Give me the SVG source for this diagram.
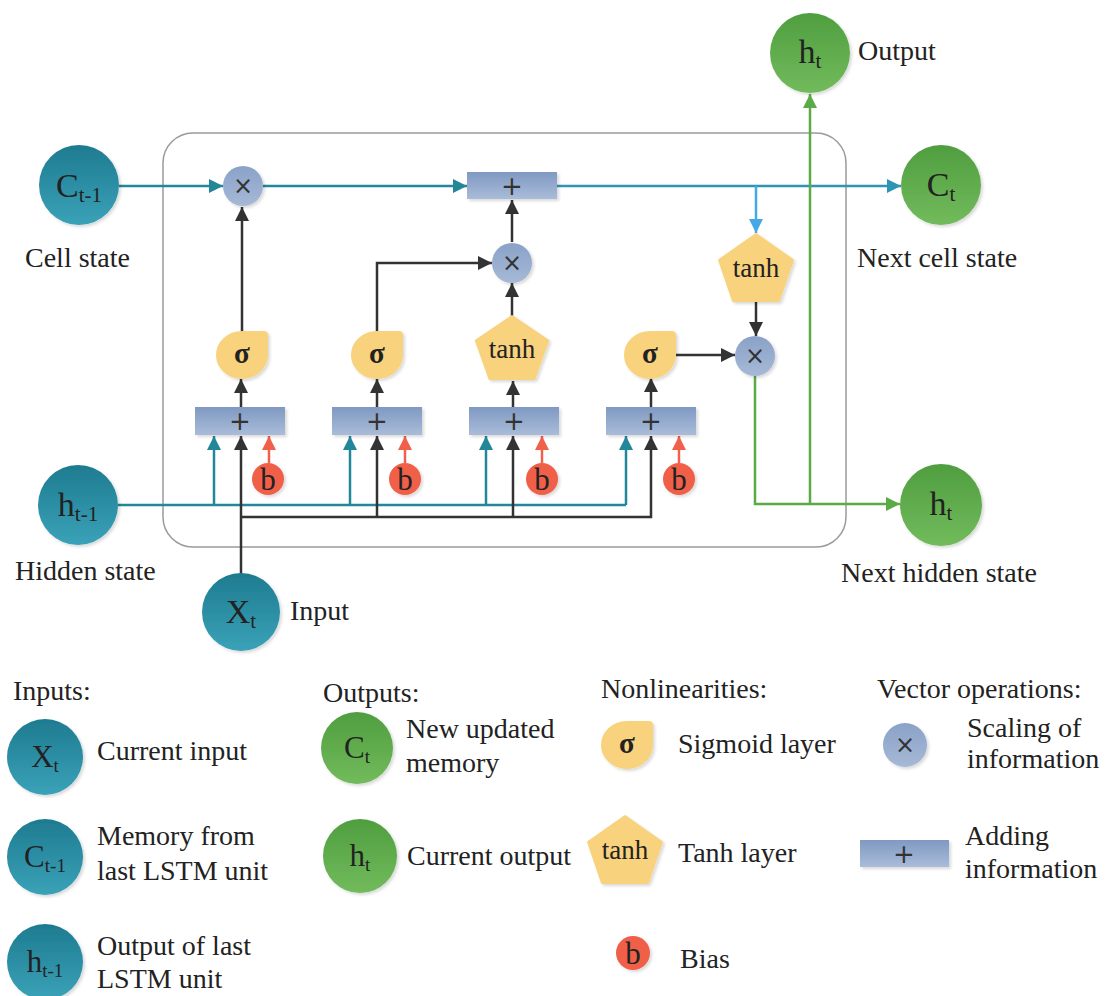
<svg xmlns="http://www.w3.org/2000/svg" width="1106" height="996" viewBox="0 0 1106 996">
<defs>
<linearGradient id="gTeal" x1="0" y1="0" x2="0" y2="1"><stop offset="0" stop-color="#1e7b90"/><stop offset="1" stop-color="#3aa2b8"/></linearGradient>
<linearGradient id="gGreen" x1="0" y1="0" x2="0" y2="1"><stop offset="0" stop-color="#4f9e3f"/><stop offset="1" stop-color="#72bb5c"/></linearGradient>
<linearGradient id="gBox" x1="0" y1="0" x2="0" y2="1"><stop offset="0" stop-color="#8099c2"/><stop offset="1" stop-color="#a9bcd9"/></linearGradient>
<linearGradient id="gOp" x1="0" y1="0" x2="0" y2="1"><stop offset="0" stop-color="#8aa2c8"/><stop offset="1" stop-color="#a6b9d6"/></linearGradient>
<filter id="sh" x="-20%" y="-20%" width="150%" height="150%"><feDropShadow dx="2" dy="2" stdDeviation="1.5" flood-color="#000" flood-opacity="0.15"/></filter>
<path id="sig" d="M-25,0 A25,23 0 0 1 0,-23 L22,-23 Q25,-23 25,-20 L25,0 A25,23 0 0 1 0,23 A25,23 0 0 1 -25,0 Z"/>
<path id="pent" d="M0,-34 L37,-8 L23,33 L-23,33 L-37,-8 Z"/>
<marker id="mk" markerUnits="userSpaceOnUse" markerWidth="15" markerHeight="15" refX="14" refY="7" orient="auto"><path d="M0,0 L14,7 L0,14 Z" fill="#333"/></marker>
<marker id="mt" markerUnits="userSpaceOnUse" markerWidth="15" markerHeight="15" refX="14" refY="7" orient="auto"><path d="M0,0 L14,7 L0,14 Z" fill="#23879a"/></marker>
<marker id="mc" markerUnits="userSpaceOnUse" markerWidth="15" markerHeight="15" refX="14" refY="7" orient="auto"><path d="M0,0 L14,7 L0,14 Z" fill="#2f95b4"/></marker>
<marker id="mb" markerUnits="userSpaceOnUse" markerWidth="15" markerHeight="15" refX="14" refY="7" orient="auto"><path d="M0,0 L14,7 L0,14 Z" fill="#45a9e6"/></marker>
<marker id="mr" markerUnits="userSpaceOnUse" markerWidth="15" markerHeight="15" refX="14" refY="7" orient="auto"><path d="M0,0 L14,7 L0,14 Z" fill="#f0604a"/></marker>
<marker id="mg" markerUnits="userSpaceOnUse" markerWidth="15" markerHeight="15" refX="14" refY="7" orient="auto"><path d="M0,0 L14,7 L0,14 Z" fill="#5aab45"/></marker>
</defs>
<style>
text{font-family:"Liberation Serif","Times New Roman",serif;fill:#222}
.lbl{font-size:28px}
.cl{font-size:34px;text-anchor:middle}
.cll{font-size:31px;text-anchor:middle}
.sub{font-size:21px}
.subl{font-size:19px}
.tc{fill:url(#gTeal);filter:url(#sh)}
.gc{fill:url(#gGreen);filter:url(#sh)}
.op{fill:url(#gOp);filter:url(#sh)}
.box{fill:url(#gBox);filter:url(#sh)}
.ny{fill:#f8d27c;stroke:#f8d27c;stroke-width:2;stroke-linejoin:round;filter:url(#sh)}
.bc{fill:#f0604a;filter:url(#sh)}
.sym{font-family:"DejaVu Sans",sans-serif;font-size:24px;text-anchor:middle;fill:#333}
.pl{font-family:"DejaVu Sans",sans-serif;font-size:26px;text-anchor:middle;fill:#333}
.sg{font-size:29px;text-anchor:middle;font-weight:bold}
.th{font-size:27px;text-anchor:middle}
.bt{font-size:31px;text-anchor:middle}
.c{fill:none;stroke-width:2.5}
.k{stroke:#333}
.t{stroke:#23879a}
.cb{stroke:#2f95b4}
.lb{stroke:#45a9e6}
.r{stroke:#f0604a}
.g{stroke:#5aab45}
</style>
<rect x="0" y="0" width="1106" height="996" fill="#fff"/>
<rect id="cell" x="163" y="133" width="683" height="414" rx="30" fill="none" stroke="#9a9a9a" stroke-width="1.5"/>

<g id="connectors">
<path class="c t" d="M119,186 H223" marker-end="url(#mt)"/>
<path class="c t" d="M263,186 H467" marker-end="url(#mt)"/>
<path class="c cb" d="M557,186 H901" marker-end="url(#mc)"/>
<path class="c lb" d="M756,186 V233" marker-end="url(#mb)"/>
<path class="c t" d="M118,505 H626"/>
<path class="c t" d="M214,505 V436" marker-end="url(#mt)"/>
<path class="c t" d="M350,505 V436" marker-end="url(#mt)"/>
<path class="c t" d="M486,505 V436" marker-end="url(#mt)"/>
<path class="c t" d="M626,505 V436" marker-end="url(#mt)"/>
<path class="c k" d="M241,574 V436" marker-end="url(#mk)"/>
<path class="c k" d="M241,517 H651 V436" marker-end="url(#mk)"/>
<path class="c k" d="M377,517 V436" marker-end="url(#mk)"/>
<path class="c k" d="M513,517 V436" marker-end="url(#mk)"/>
<path class="c k" d="M241,407 V379" marker-end="url(#mk)"/>
<path class="c k" d="M242,332 V207" marker-end="url(#mk)"/>
<path class="c k" d="M377,407 V379" marker-end="url(#mk)"/>
<path class="c k" d="M377,332 V263 H492" marker-end="url(#mk)"/>
<path class="c k" d="M513,407 V381" marker-end="url(#mk)"/>
<path class="c k" d="M512,316 V283" marker-end="url(#mk)"/>
<path class="c k" d="M512,242 V200" marker-end="url(#mk)"/>
<path class="c k" d="M651,407 V378" marker-end="url(#mk)"/>
<path class="c k" d="M676,355 H735" marker-end="url(#mk)"/>
<path class="c k" d="M756,302 V336" marker-end="url(#mk)"/>
<path class="c r" d="M269,463 V436" marker-end="url(#mr)"/>
<path class="c r" d="M405,463 V436" marker-end="url(#mr)"/>
<path class="c r" d="M542,463 V436" marker-end="url(#mr)"/>
<path class="c r" d="M679,463 V436" marker-end="url(#mr)"/>
<path class="c g" d="M755,376 V504 H900" marker-end="url(#mg)"/>
<path class="c g" d="M810,504 V94" marker-end="url(#mg)"/>
</g>

<g id="c_prev"><circle class="tc" cx="79" cy="185" r="40"/><text class="cl" x="79" y="197">C<tspan class="sub" dy="5">t-1</tspan></text><text class="lbl" x="25" y="267">Cell state</text></g>
<g id="h_prev"><circle class="tc" cx="78" cy="505" r="40"/><text class="cl" x="78" y="516">h<tspan class="sub" dy="5">t-1</tspan></text><text class="lbl" x="15" y="580">Hidden state</text></g>
<g id="x_t"><circle class="tc" cx="241" cy="612" r="39"/><text class="cl" x="241" y="623">X<tspan class="sub" dy="5">t</tspan></text><text class="lbl" x="290" y="620">Input</text></g>
<g id="c_t"><circle class="gc" cx="941" cy="185" r="40"/><text class="cl" x="941" y="196">C<tspan class="sub" dy="5">t</tspan></text><text class="lbl" x="857" y="267">Next cell state</text></g>
<g id="h_out"><circle class="gc" cx="810" cy="53" r="40"/><text class="cl" x="810" y="63">h<tspan class="sub" dy="5">t</tspan></text><text class="lbl" x="858" y="60">Output</text></g>
<g id="h_t"><circle class="gc" cx="941" cy="505" r="41"/><text class="cl" x="941" y="515">h<tspan class="sub" dy="5">t</tspan></text><text class="lbl" x="841" y="582">Next hidden state</text></g>

<g id="mul_forget"><circle class="op" cx="243" cy="186" r="20"/><text class="sym" x="243" y="194">×</text></g>
<g id="add_cell"><rect class="box" x="467" y="172" width="90" height="27"/><text class="pl" x="512" y="195">+</text></g>
<g id="mul_input"><circle class="op" cx="512" cy="263" r="20"/><text class="sym" x="512" y="271">×</text></g>
<g id="tanh_out"><use href="#pent" class="ny" transform="translate(756,268)"/><text class="th" x="756" y="277">tanh</text></g>
<g id="mul_out"><circle class="op" cx="755" cy="356" r="20"/><text class="sym" x="755" y="364">×</text></g>

<g id="sig_f"><use href="#sig" class="ny" transform="translate(242,355)"/><text class="sg" x="242" y="363">σ</text></g>
<g id="sig_i"><use href="#sig" class="ny" transform="translate(377,355)"/><text class="sg" x="377" y="363">σ</text></g>
<g id="tanh_c"><use href="#pent" class="ny" transform="translate(512,348) scale(0.98,0.94)"/><text class="th" x="512" y="358">tanh</text></g>
<g id="sig_o"><use href="#sig" class="ny" transform="translate(650,355)"/><text class="sg" x="650" y="363">σ</text></g>

<g id="add_f"><rect class="box" x="195" y="407" width="90" height="28"/><text class="pl" x="240" y="430">+</text></g>
<g id="add_i"><rect class="box" x="332" y="407" width="90" height="28"/><text class="pl" x="377" y="430">+</text></g>
<g id="add_c"><rect class="box" x="469" y="407" width="90" height="28"/><text class="pl" x="514" y="430">+</text></g>
<g id="add_o"><rect class="box" x="606" y="407" width="90" height="28"/><text class="pl" x="651" y="430">+</text></g>

<g id="b1"><circle class="bc" cx="268" cy="479" r="16"/><text class="bt" x="268" y="490">b</text></g>
<g id="b2"><circle class="bc" cx="405" cy="479" r="16"/><text class="bt" x="405" y="490">b</text></g>
<g id="b3"><circle class="bc" cx="542" cy="479" r="16"/><text class="bt" x="542" y="490">b</text></g>
<g id="b4"><circle class="bc" cx="679" cy="479" r="16"/><text class="bt" x="679" y="490">b</text></g>

<g id="legend">
<text class="lbl" x="13" y="700">Inputs:</text>
<circle class="tc" cx="45" cy="757" r="38"/><text class="cll" x="45" y="767">X<tspan class="subl" dy="5">t</tspan></text>
<text class="lbl" x="97" y="760">Current input</text>
<circle class="tc" cx="45" cy="857" r="38"/><text class="cll" x="45" y="867">C<tspan class="subl" dy="5">t-1</tspan></text>
<text class="lbl" x="97" y="845">Memory from</text><text class="lbl" x="97" y="880">last LSTM unit</text>
<circle class="tc" cx="45" cy="962" r="38"/><text class="cll" x="45" y="972">h<tspan class="subl" dy="5">t-1</tspan></text>
<text class="lbl" x="97" y="955">Output of last</text><text class="lbl" x="97" y="988">LSTM unit</text>

<text class="lbl" x="323" y="702">Outputs:</text>
<circle class="gc" cx="357" cy="748" r="36"/><text class="cll" x="357" y="758">C<tspan class="subl" dy="5">t</tspan></text>
<text class="lbl" x="406" y="738">New updated</text><text class="lbl" x="406" y="772">memory</text>
<circle class="gc" cx="360" cy="856" r="37"/><text class="cll" x="360" y="866">h<tspan class="subl" dy="5">t</tspan></text>
<text class="lbl" x="407" y="865">Current output</text>

<text class="lbl" x="601" y="698">Nonlinearities:</text>
<use href="#sig" class="ny" transform="translate(627,745)"/><text class="sg" x="627" y="753">σ</text>
<text class="lbl" x="678" y="753">Sigmoid layer</text>
<use href="#pent" class="ny" transform="translate(625,850)"/><text class="th" x="625" y="859">tanh</text>
<text class="lbl" x="678" y="862">Tanh layer</text>
<circle class="bc" cx="633" cy="953" r="17"/><text class="bt" x="633" y="964">b</text>
<text class="lbl" x="680" y="968">Bias</text>

<text class="lbl" x="877" y="698">Vector operations:</text>
<circle class="op" cx="905" cy="745" r="22"/><text class="sym" x="905" y="753">×</text>
<text class="lbl" x="967" y="737">Scaling of</text><text class="lbl" x="967" y="768">information</text>
<rect class="box" x="860" y="840" width="89" height="27"/><text class="pl" x="904" y="863">+</text>
<text class="lbl" x="965" y="845">Adding</text><text class="lbl" x="965" y="878">information</text>
</g>
</svg>
